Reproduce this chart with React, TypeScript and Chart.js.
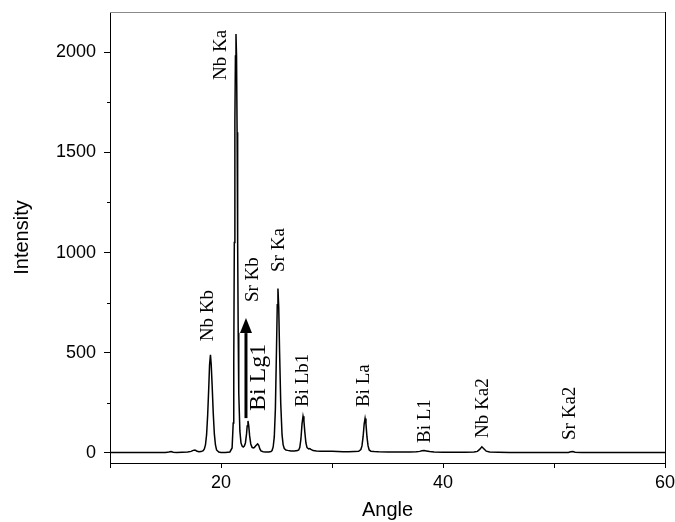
import React, { useEffect, useRef } from 'react';
import { Chart, registerables } from 'chart.js';

Chart.register(...registerables);

// Spectrum: angle (degrees) and intensity
const angles = [
  10, 11, 12, 13, 14, 15, 15.3, 15.5, 15.7, 16, 16.5, 17, 17.3, 17.5, 17.65, 17.8, 18, 18.2, 18.4,
  18.5, 18.6, 18.7, 18.8, 18.9, 18.97, 19.05, 19.12, 19.2, 19.3, 19.4, 19.5, 19.6, 19.8, 20,
  20.4, 20.8, 21, 21.1, 21.15, 21.2, 21.25, 21.3, 21.35, 21.4, 21.45, 21.5, 21.55, 21.6, 21.7, 21.8, 21.9, 22,
  22.1, 22.2, 22.3, 22.36, 22.43, 22.5, 22.58, 22.68, 22.8, 22.9, 23, 23.15, 23.3, 23.4, 23.5, 23.6, 23.8, 24, 24.3, 24.5,
  24.6, 24.7, 24.8, 24.9, 25, 25.07, 25.13, 25.2, 25.28, 25.38, 25.5, 25.6, 25.7, 25.85, 26, 26.3, 26.6, 26.9,
  27, 27.1, 27.2, 27.3, 27.39, 27.47, 27.55, 27.65, 27.75, 27.9, 28, 28.1, 28.3, 28.6, 29, 29.5, 30,
  30.5, 31, 31.5, 32, 32.4, 32.6, 32.7, 32.8, 32.9, 32.98, 33.06, 33.15, 33.25, 33.35, 33.5, 33.8, 34.2, 35, 36, 37, 37.6,
  37.9, 38.1, 38.3, 38.5, 38.8, 39.2, 40, 41, 42, 42.8,
  43.1, 43.3, 43.5, 43.7, 43.9, 44.2, 45, 46, 48, 50, 51.3, 51.5, 51.7, 51.9, 52.5, 54, 56, 58, 60,
];
const intensity = [
  2, 2, 2, 3, 3, 3, 5, 7, 4, 3, 4, 5, 8, 13, 15, 10, 6, 7, 12,
  20, 40, 90, 190, 330, 440, 490, 440, 340, 200, 95, 40, 15, 5, 3,
  3, 5, 25, 150, 450, 1050, 1650, 1980, 2090, 1980, 1600, 1050, 600, 300, 110, 50, 35, 30,
  35, 50, 95, 135, 160, 135, 85, 45, 28, 25, 27, 37, 45, 38, 20, 10, 6, 5, 5, 7,
  12, 30, 80, 220, 520, 740, 820, 730, 500, 250, 90, 40, 22, 15, 13, 10, 10, 12,
  15, 28, 70, 145, 183, 160, 105, 50, 27, 20, 22, 18, 12, 10, 9, 8, 8,
  7, 6, 6, 7, 8, 17, 35, 80, 145, 172, 145, 80, 35, 15, 9, 7, 6, 5, 5, 5, 6,
  8, 11, 12, 10, 7, 5, 4, 4, 4, 5,
  8, 18, 31, 20, 9, 5, 4, 3, 3, 3, 3, 6, 7, 4, 3, 3, 3, 3, 3,
];

const xTickValues = [10, 20, 30, 40, 50, 60];
const xTickLabels = ['', '20', '', '40', '', '60'];
const yTickValues = [0, 250, 500, 750, 1000, 1250, 1500, 1750, 2000];
const yTickLabels = ['0', '', '500', '', '1000', '', '1500', '', '2000'];

// Peak annotations: name, angle of the label, intensity where the text starts
const peakNames = ['Nb Kb', 'Nb Ka', 'Sr Kb', 'Sr Ka', 'Bi Lb1', 'Bi La', 'Bi L1', 'Nb Ka2', 'Sr Ka2'];
const peakLabelAngles = [18.87, 20.0, 22.84, 25.27, 27.43, 32.84, 38.38, 43.56, 51.44];
const peakLabelBases = [558, 1861, 753, 903, 229, 229, 50, 75, 65];

// Arrow annotation
const arrowName = 'Bi Lg1';
const arrowAngle = 22.25;
const arrowFrom = 174;
const arrowTo = 673;
const arrowLabelAngle = 23.38;
const arrowLabelBase = 209;

const annotatePlugin = {
  id: 'annotate',
  afterDraw(chart: any) {
    const { ctx, chartArea, scales } = chart;
    const x = scales.x;
    const y = scales.y;
    ctx.save();
    // frame top / right
    ctx.lineWidth = 1;
    ctx.strokeStyle = '#8a8a8a';
    ctx.beginPath();
    ctx.moveTo(chartArea.left, Math.round(chartArea.top) + 0.5);
    ctx.lineTo(chartArea.right + 1, Math.round(chartArea.top) + 0.5);
    ctx.stroke();
    ctx.strokeStyle = '#000';
    ctx.beginPath();
    ctx.moveTo(Math.round(chartArea.right) + 0.5, chartArea.top);
    ctx.lineTo(Math.round(chartArea.right) + 0.5, chartArea.bottom);
    ctx.stroke();
    // minor y ticks
    yTickValues.forEach((v, i) => {
      if (yTickLabels[i] !== '') return;
      const py = Math.round(y.getPixelForValue(v)) + 0.5;
      ctx.beginPath();
      ctx.moveTo(chartArea.left - 3, py);
      ctx.lineTo(chartArea.left, py);
      ctx.stroke();
    });
    // peak labels
    ctx.fillStyle = '#000';
    ctx.textAlign = 'left';
    ctx.textBaseline = 'middle';
    ctx.font = '19px "Liberation Serif"';
    peakNames.forEach((n, i) => {
      const px = x.getPixelForValue(peakLabelAngles[i]);
      const py = y.getPixelForValue(peakLabelBases[i]);
      ctx.save();
      ctx.translate(px, py);
      ctx.rotate(-Math.PI / 2);
      ctx.fillText(n, 0, 0);
      ctx.restore();
    });
    // arrow
    const ax = x.getPixelForValue(arrowAngle);
    const ay0 = y.getPixelForValue(arrowFrom);
    const ay1 = y.getPixelForValue(arrowTo);
    const headH = 15;
    const headW = 12;
    ctx.lineWidth = 3;
    ctx.beginPath();
    ctx.moveTo(ax, ay0);
    ctx.lineTo(ax, ay1 + headH);
    ctx.stroke();
    ctx.beginPath();
    ctx.moveTo(ax, ay1);
    ctx.lineTo(ax - headW / 2, ay1 + headH);
    ctx.lineTo(ax + headW / 2, ay1 + headH);
    ctx.closePath();
    ctx.fill();
    ctx.font = '24px "Liberation Serif"';
    const lx = x.getPixelForValue(arrowLabelAngle);
    const ly = y.getPixelForValue(arrowLabelBase);
    ctx.save();
    ctx.translate(lx, ly);
    ctx.rotate(-Math.PI / 2);
    ctx.fillText(arrowName, 0, 0);
    ctx.restore();
    ctx.restore();
  },
};

export default function App() {
  const ref = useRef<HTMLCanvasElement | null>(null);
  useEffect(() => {
    if (!ref.current) return;
    const points = angles.map((a, i) => ({ x: a, y: intensity[i] }));
    const chart = new Chart(ref.current, {
      type: 'line',
      data: {
        datasets: [
          {
            data: points,
            borderColor: '#000',
            borderWidth: 1.5,
            pointRadius: 0,
            tension: 0,
            fill: false,
          },
        ],
      },
      options: {
        responsive: false,
        animation: false,
        devicePixelRatio: 1,
        layout: { padding: { top: 12, right: 10, left: 0, bottom: 0 } },
        plugins: { legend: { display: false }, tooltip: { enabled: false } },
        scales: {
          x: {
            type: 'linear',
            min: 10,
            max: 60,
            afterBuildTicks: (s: any) => {
              s.ticks = xTickValues.map((v) => ({ value: v }));
            },
            afterFit: (s: any) => {
              s.height = 59;
              s.paddingLeft = 0;
              s.paddingRight = 0;
            },
            ticks: {
              autoSkip: false,
              maxRotation: 0,
              padding: 4,
              color: '#000',
              font: { family: '"Liberation Sans", Arial', size: 18 },
              callback: (_v: any, i: number) => xTickLabels[i],
            },
            grid: { drawOnChartArea: false, tickLength: 5, color: '#000' },
            border: { display: true, color: '#000', width: 1 },
            title: {
              display: true,
              text: 'Angle',
              color: '#000',
              font: { family: '"Liberation Sans", Arial', size: 20 },
              padding: { top: 0, bottom: 0 },
            },
          },
          y: {
            type: 'linear',
            min: -50,
            max: 2200,
            afterBuildTicks: (s: any) => {
              s.ticks = yTickValues.map((v) => ({ value: v }));
            },
            afterFit: (s: any) => {
              s.width = 110;
              s.paddingTop = 0;
              s.paddingBottom = 0;
            },
            ticks: {
              autoSkip: false,
              padding: 8,
              color: '#000',
              font: { family: '"Liberation Sans", Arial', size: 18 },
              callback: (_v: any, i: number) => yTickLabels[i],
            },
            grid: {
              drawOnChartArea: false,
              tickLength: 6,
              color: '#000',
              tickColor: (c: any) => (yTickLabels[c.index] === '' ? 'rgba(0,0,0,0)' : '#000'),
            },
            border: { display: true, color: '#000', width: 1 },
            title: {
              display: true,
              text: 'Intensity',
              color: '#000',
              font: { family: '"Liberation Sans", Arial', size: 20 },
              padding: { top: 10, bottom: 0 },
            },
          },
        },
      },
      plugins: [annotatePlugin],
    });
    return () => chart.destroy();
  }, []);
  return (
    <div style={{ position: 'absolute', left: 0, top: 0, width: 675, height: 522, background: '#fff' }}>
      <canvas ref={ref} width={675} height={522} style={{ display: 'block' }} />
    </div>
  );
}
